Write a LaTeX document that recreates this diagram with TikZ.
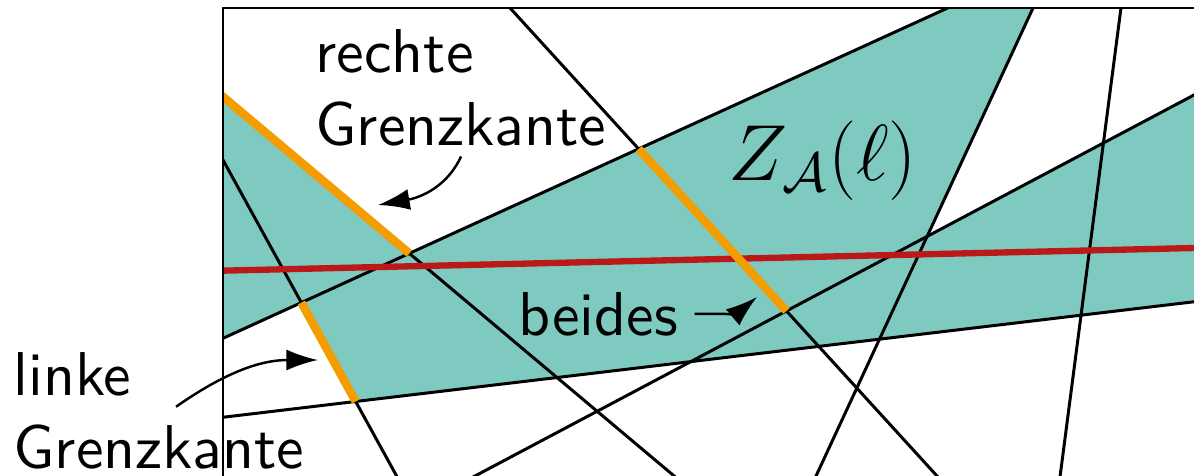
\documentclass[tikz,border=0pt]{standalone}
\usepackage{fontspec}
\setsansfont{lmsans10-regular.otf}
\usetikzlibrary{arrows.meta}
\definecolor{zonefill}{RGB}{127,202,192}
\definecolor{edgeorange}{RGB}{243,157,0}
\definecolor{lred}{RGB}{187,25,25}

\begin{document}
\begin{tikzpicture}[x=0.01cm, y=-0.01cm,
    arrline/.style={black, line width=0.85pt},
    edgeline/.style={edgeorange, line width=2.4pt},
    ellline/.style={lred, line width=1.8pt},
    lbl/.style={font=\sffamily\fontsize{17.6}{20.6}\selectfont, inner sep=0pt, align=left},
    pointer/.style={-{Latex[length=9pt,width=6pt]}, line width=0.7pt}]
    \useasboundingbox (0,0) rectangle (1194,476);

    % Line ends, all outside the frame
    \coordinate (a1) at (200,348.8);  \coordinate (a2) at (1009.1,-20);
    \coordinate (r1) at (200,77.4);   \coordinate (r2) at (702.7,500);
    \coordinate (e1) at (484.5,-20);  \coordinate (e2) at (958.9,500);
    \coordinate (l1) at (200,118.1);  \coordinate (l2) at (409.8,500);
    \coordinate (d1) at (200,420.0);  \coordinate (d2) at (1250,295.1);
    \coordinate (c1) at (429.7,500);  \coordinate (c2) at (1250,65.3);
    \coordinate (b1) at (1046,-20);   \coordinate (b2) at (804.9,500);
    \coordinate (f1) at (1124.6,-20); \coordinate (f2) at (1057,500);
    \coordinate (g1) at (200,271.2);  \coordinate (g2) at (1250,246.7);

    % Vertices of the zone
    \coordinate (ar) at (intersection of a1--a2 and r1--r2);
    \coordinate (ae) at (intersection of a1--a2 and e1--e2);
    \coordinate (al) at (intersection of a1--a2 and l1--l2);
    \coordinate (ld) at (intersection of l1--l2 and d1--d2);
    \coordinate (ec) at (intersection of e1--e2 and c1--c2);
    \coordinate (bc) at (intersection of b1--b2 and c1--c2);

    \begin{scope}
        \clip (223,8) rectangle (1250,500);
        % Zone Z_A(l)
        \fill[zonefill] (r1) -- (ar) -- (a2) -- (b1) -- (bc) -- (c2)
            -- (d2) -- (ld) -- (al) -- (a1) -- cycle;
        % Arrangement
        \foreach \p in {a,r,e,l,d,c,b,f}
            \draw[arrline] (\p1) -- (\p2);
        \draw[ellline] (g1) -- (g2);
        % Boundary edges
        \draw[edgeline] (r1) -- (ar);
        \draw[edgeline] (al) -- (ld);
        \draw[edgeline] (ae) -- (ec);
    \end{scope}

    % Labels
    \node[lbl, anchor=north west] (rechts) at (315,29) {rechte\\Grenzkante};
    \node[lbl, anchor=north west] (links) at (13,352) {linke\\Grenzkante};
    \node[lbl, anchor=base west] (beides) at (518,335) {beides};
    \node[font=\fontsize{20.74}{25}\selectfont, scale=1.09, inner sep=0pt, anchor=base west] (zone)
        at (728,180) {$Z_{\mathcal{A}}(\ell)$};

    % Frame
    \draw[arrline] (223,480) -- (223,8) -- (1200,8);

    % Pointers
    \coordinate (rtip) at (378,205);
    \coordinate (ltip) at (318,360);
    \coordinate (btip) at (757,297);
    \draw[pointer] ([yshift=-0.1cm]rechts.south) to[out=-115, in=10] (rtip);
    \draw[pointer] ([xshift=0.17cm, yshift=0.04cm]links.center) to[out=35, in=180] (ltip);
    \draw[pointer] ([xshift=0.16cm]beides.east) to[out=0, in=-140] (btip);
\end{tikzpicture}
\end{document}
